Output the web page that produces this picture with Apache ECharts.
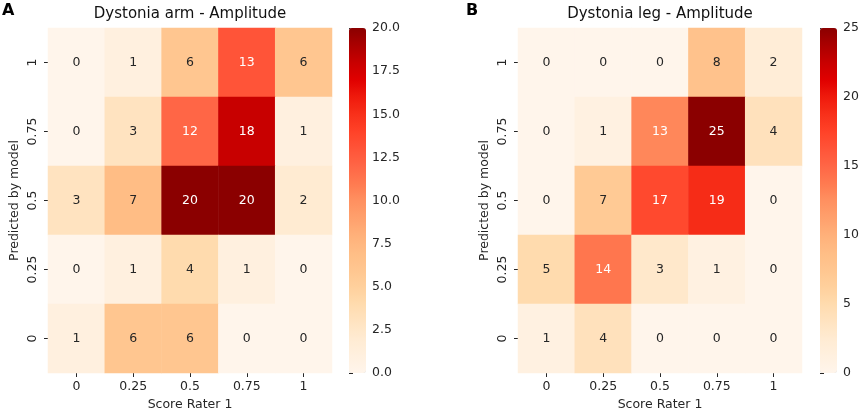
<!DOCTYPE html>
<html><head><meta charset="utf-8">
<script src="https://cdn.jsdelivr.net/npm/echarts@6/dist/echarts.min.js"></script>
<style>html,body{margin:0;padding:0;background:#fff}#c{width:865px;height:410px}</style>
</head><body><div id="c"></div>
<script>
const xCategories = ['0','0.25','0.5','0.75','1'];
const yCategories = ['0','0.25','0.5','0.75','1'];
// rows listed top (y = 1) to bottom (y = 0)
const armRows = [
  [0,1,6,13,6],
  [0,3,12,18,1],
  [3,7,20,20,2],
  [0,1,4,1,0],
  [1,6,6,0,0]
];
const legRows = [
  [0,0,0,8,2],
  [0,1,13,25,4],
  [0,7,17,19,0],
  [5,14,3,1,0],
  [1,4,0,0,0]
];
const armMax = 20, armTickStep = 2.5;
const legMax = 25, legTickStep = 5;
const titles = ['Dystonia arm - Amplitude', 'Dystonia leg - Amplitude'];
const panelLetters = ['A', 'B'];

const cmap = ['#fff5eb','#fff0df','#ffebd2','#ffe3c0','#ffdbae','#ffd09c','#ffc690','#ffbd85','#ffb07a','#ffa06c',
  '#ff9060','#ff7a50','#ff6646','#ff5438','#ff4228','#f8301a','#ef1a0c','#e00000','#c80000','#aa0000','#8b0000'];
const FONT = 'DejaVu Sans';
const TXT = '#262626';
const FS = 12.5;

function toData(rows, max){
  const out = [];
  rows.forEach((row, ri) => {
    const yi = rows.length - 1 - ri;
    row.forEach((v, xi) => {
      out.push({value:[xi, yi, v], label:{color: v/max > 0.45 ? '#ffffff' : TXT}});
    });
  });
  return out;
}

const panels = [
  {left:48, cbLeft:349, rows:armRows, max:armMax, step:armTickStep, fmt:v=>v.toFixed(1)},
  {left:518, cbLeft:820, rows:legRows, max:legMax, step:legTickStep, fmt:v=>String(v)}
];
const TOP = 28, H = 345, W = 284, CBW = 17;

const grid = [], xAxis = [], yAxis = [], series = [], visualMap = [], title = [];
panels.forEach((p, i) => {
  grid.push({left:p.left, top:TOP, width:W, height:H, containLabel:false, outerBoundsMode:'none'});
  grid.push({left:p.cbLeft, top:TOP, width:CBW, height:H, containLabel:false, outerBoundsMode:'none'});
  const gi = i*2;
  xAxis.push({type:'category', gridIndex:gi, data:xCategories,
    name:'Score Rater 1', nameLocation:'middle', nameGap:24,
    nameTextStyle:{fontFamily:FONT, fontSize:FS, color:TXT},
    axisLine:{show:false}, axisTick:{show:true, alignWithLabel:true, length:4, lineStyle:{color:TXT}},
    axisLabel:{fontFamily:FONT, fontSize:FS, color:TXT, margin:7}, splitLine:{show:false}});
  yAxis.push({type:'category', gridIndex:gi, data:yCategories,
    name:'Predicted by model', nameLocation:'middle', nameGap:27, nameRotate:90,
    nameTextStyle:{fontFamily:FONT, fontSize:FS, color:TXT},
    axisLine:{show:false}, axisTick:{show:true, alignWithLabel:true, length:4, lineStyle:{color:TXT}},
    axisLabel:{fontFamily:FONT, fontSize:FS, color:TXT, rotate:90, margin:9}, splitLine:{show:false}});
  xAxis.push({type:'value', gridIndex:gi+1, show:false, min:0, max:1});
  yAxis.push({type:'value', gridIndex:gi+1, position:'right', min:0, max:p.max, interval:p.step,
    axisLine:{show:false}, axisTick:{show:true, length:4, lineStyle:{color:TXT}},
    axisLabel:{fontFamily:FONT, fontSize:FS, color:TXT, margin:6, formatter:p.fmt}, splitLine:{show:false}});
  series.push({type:'heatmap', xAxisIndex:gi, yAxisIndex:gi, data:toData(p.rows, p.max),
    label:{show:true, fontFamily:FONT, fontSize:FS}, itemStyle:{borderWidth:0}, emphasis:{disabled:true}});
  series.push({type:'line', xAxisIndex:gi+1, yAxisIndex:gi+1, data:[], silent:true});
  visualMap.push({type:'continuous', min:0, max:p.max, seriesIndex:i*2, calculable:false,
    left:p.cbLeft, top:TOP, itemWidth:CBW, itemHeight:H, padding:0, text:null, showLabel:false,
    hoverLink:false, inRange:{color:cmap}});
  title.push({text:titles[i], left:p.left + W/2, top:7, padding:0, textAlign:'center',
    textStyle:{fontFamily:FONT, fontSize:15, fontWeight:'normal', color:'#111'}});
});
title.push({text:panelLetters[0], left:2, top:3, padding:0, textStyle:{fontFamily:FONT, fontSize:16, fontWeight:'bold', color:'#000'}});
title.push({text:panelLetters[1], left:466, top:3, padding:0, textStyle:{fontFamily:FONT, fontSize:16, fontWeight:'bold', color:'#000'}});

const chart = echarts.init(document.getElementById('c'), null, {renderer:'canvas'});
chart.setOption({animation:false, backgroundColor:'#fff', title, grid, xAxis, yAxis, series, visualMap});
</script></body></html>
